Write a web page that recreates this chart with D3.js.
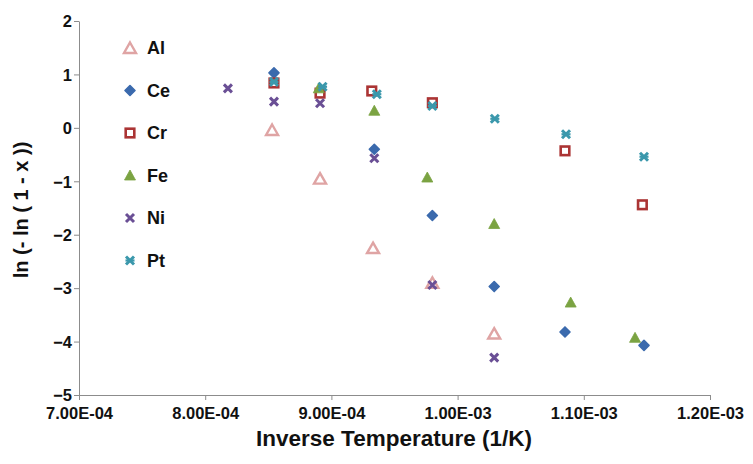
<!DOCTYPE html>
<html>
<head>
<meta charset="utf-8">
<script src="https://cdn.jsdelivr.net/npm/d3@7"></script>
<style>
  html, body { margin: 0; padding: 0; background: #fff; }
  svg { display: block; font-family: "Liberation Sans", Arial, sans-serif; }
</style>
</head>
<body>
<svg id="chart" width="753" height="464"></svg>
<script>
// Inverse temperature (1/K) and ln(-ln(1-x)) for each element
const alX = [8.53e-4, 8.91e-4, 9.33e-4, 9.80e-4, 1.029e-3];
const alY = [-0.04, -0.95, -2.25, -2.90, -3.85];

const ceX = [8.545e-4, 9.34e-4, 9.80e-4, 1.029e-3, 1.0851e-3, 1.1477e-3];
const ceY = [1.03, -0.40, -1.64, -2.97, -3.82, -4.07];

const crX = [8.545e-4, 8.91e-4, 9.32e-4, 9.80e-4, 1.0851e-3, 1.1464e-3];
const crY = [0.84, 0.65, 0.69, 0.47, -0.43, -1.44];

const feX = [8.90e-4, 9.34e-4, 9.76e-4, 1.029e-3, 1.0896e-3, 1.1406e-3];
const feY = [0.74, 0.32, -0.93, -1.80, -3.27, -3.93];

const niX = [8.18e-4, 8.545e-4, 8.91e-4, 9.34e-4, 9.80e-4, 1.029e-3];
const niY = [0.74, 0.49, 0.46, -0.57, -2.94, -4.30];

const ptX = [8.545e-4, 8.93e-4, 9.36e-4, 9.80e-4, 1.0295e-3, 1.0859e-3, 1.1477e-3];
const ptY = [0.86, 0.77, 0.63, 0.41, 0.17, -0.12, -0.54];

const xTicks = [7.0e-4, 8.0e-4, 9.0e-4, 1.0e-3, 1.1e-3, 1.2e-3];
const xTickLabels = ["7.00E-04", "8.00E-04", "9.00E-04", "1.00E-03", "1.10E-03", "1.20E-03"];
const yTicks = [2, 1, 0, -1, -2, -3, -4, -5];

const seriesNames = ["Al", "Ce", "Cr", "Fe", "Ni", "Pt"];

const series = [
  { name: "Al", xs: alX, ys: alY, shape: "triOpen", color: "#dfa4a4" },
  { name: "Ce", xs: ceX, ys: ceY, shape: "diamond", color: "#3b6aad" },
  { name: "Cr", xs: crX, ys: crY, shape: "squareOpen", color: "#ab3434" },
  { name: "Fe", xs: feX, ys: feY, shape: "triangle", color: "#7ba342" },
  { name: "Ni", xs: niX, ys: niY, shape: "cross", color: "#6a4f95" },
  { name: "Pt", xs: ptX, ys: ptY, shape: "star", color: "#3b98ac" }
];

const svg = d3.select("#chart");
const plotL = 79, plotR = 710, plotT = 21, plotB = 395;

const x = d3.scaleLinear().domain([7.0e-4, 1.2e-3]).range([plotL, plotR]);
const y = d3.scaleLinear().domain([-5, 2]).range([plotB, plotT]);

// Axes
const axisColor = "#8c8c8c";
const xAxis = d3.axisBottom(x).tickValues(xTicks)
  .tickFormat((d, i) => xTickLabels[i]).tickSize(5).tickSizeOuter(0);
const yAxis = d3.axisLeft(y).tickValues(yTicks)
  .tickFormat(d3.format("d")).tickSize(5).tickSizeOuter(0);

const gx = svg.append("g").attr("transform", `translate(0,${plotB})`).call(xAxis);
const gy = svg.append("g").attr("transform", `translate(${plotL},0)`).call(yAxis);

[gx, gy].forEach(g => {
  g.select(".domain").attr("stroke", axisColor).attr("stroke-width", 1);
  g.selectAll(".tick line").attr("stroke", axisColor);
  g.selectAll(".tick text")
    .attr("fill", "#111")
    .style("font-size", "16.5px")
    .style("font-weight", "bold")
    .style("font-family", "'Liberation Sans', Arial, sans-serif");
});
gx.selectAll(".tick text").attr("y", 10).attr("dy", "0.85em");
gy.selectAll(".tick text").attr("x", -7).attr("dy", "0.35em");

// Axis titles
svg.append("text")
  .attr("x", 394)
  .attr("y", 446)
  .attr("text-anchor", "middle")
  .style("font-size", "22.5px")
  .style("font-weight", "bold")
  .attr("fill", "#111")
  .text("Inverse Temperature (1/K)");

svg.append("text")
  .attr("transform", `translate(28,210) rotate(-90)`)
  .attr("text-anchor", "middle")
  .style("font-size", "20px")
  .style("font-weight", "bold")
  .attr("fill", "#111")
  .text("ln (- ln ( 1 - x ))");

// Marker drawing
function drawMarker(g, shape, color) {
  if (shape === "triOpen") {
    g.append("path").attr("d", "M0,-5.5 L6,5 L-6,5 Z")
      .attr("fill", "#fff").attr("stroke", color).attr("stroke-width", 2.4)
      .attr("stroke-linejoin", "miter");
  } else if (shape === "diamond") {
    g.append("path").attr("d", "M0,-5 L5,0 L0,5 L-5,0 Z")
      .attr("fill", color).attr("stroke", color).attr("stroke-width", 1.6)
      .attr("stroke-linejoin", "round");
  } else if (shape === "squareOpen") {
    g.append("rect").attr("x", -4.3).attr("y", -4.3).attr("width", 8.6).attr("height", 8.6)
      .attr("fill", "#fff").attr("stroke", color).attr("stroke-width", 2.6);
  } else if (shape === "triangle") {
    g.append("path").attr("d", "M0,-5.5 L5.5,4.5 L-5.5,4.5 Z")
      .attr("fill", color).attr("stroke", color).attr("stroke-width", 0.8)
      .attr("stroke-linejoin", "round");
  } else if (shape === "cross") {
    g.append("path").attr("d", "M-4,-4 L4,4 M4,-4 L-4,4")
      .attr("stroke", color).attr("stroke-width", 3).attr("stroke-linecap", "butt");
  } else if (shape === "star") {
    g.append("path").attr("d", "M-4,-4 L4,4 M4,-4 L-4,4")
      .attr("stroke", color).attr("stroke-width", 3).attr("stroke-linecap", "butt");
    g.append("path").attr("d", "M-4.5,0 L4.5,0")
      .attr("stroke", color).attr("stroke-width", 2.2);
  }
}

// Data points
series.forEach(s => {
  const pts = s.xs.map((xv, i) => [xv, s.ys[i]]);
  svg.append("g").selectAll("g")
    .data(pts)
    .join("g")
    .attr("transform", d => `translate(${x(d[0])},${y(d[1])})`)
    .each(function () { drawMarker(d3.select(this), s.shape, s.color); });
});

// Legend
const legend = svg.append("g");
series.forEach((s, i) => {
  const ly = 48 + i * 42.5;
  const item = legend.append("g").attr("transform", `translate(130,${ly})`);
  drawMarker(item, s.shape, s.color);
  item.append("text")
    .attr("x", 17)
    .attr("y", 0)
    .attr("dy", "0.36em")
    .style("font-size", "18px")
    .style("font-weight", "bold")
    .attr("fill", "#111")
    .text(seriesNames[i]);
});
</script>
</body>
</html>
